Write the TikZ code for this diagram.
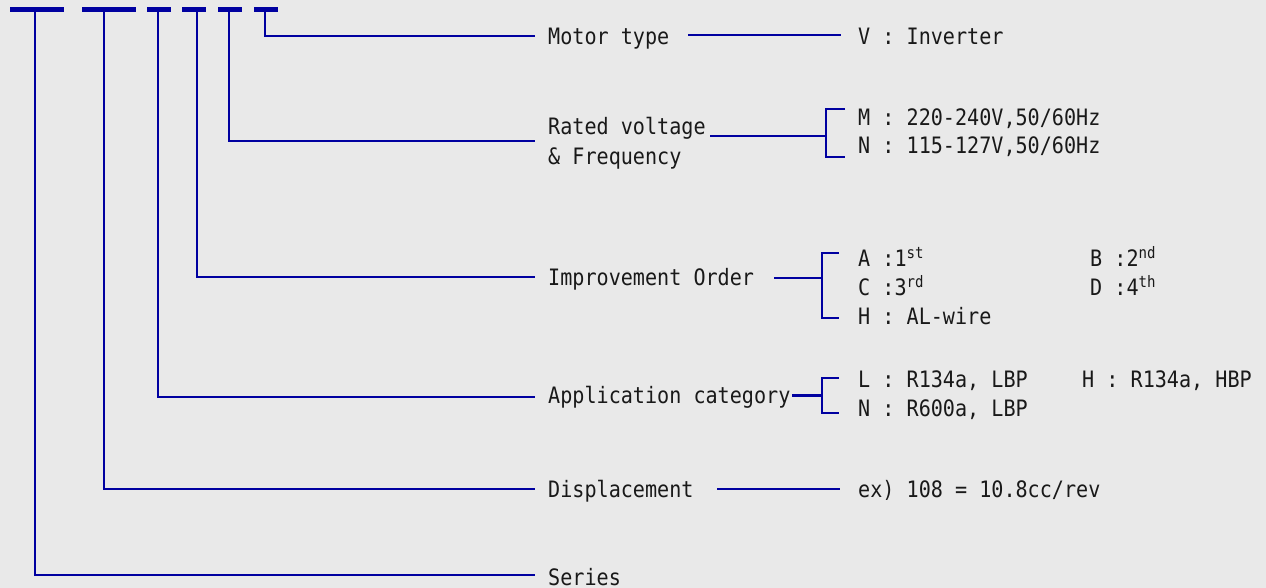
\documentclass[tikz,border=0pt]{standalone}
\usepackage{fontspec}
\setmainfont[FakeStretch=0.89]{DejaVu Sans Mono}
\usetikzlibrary{calc}

\definecolor{codeblue}{RGB}{0,0,160}
\definecolor{paper}{RGB}{233,233,233}

\tikzset{
  bar/.style={fill=codeblue, inner sep=0pt, minimum height=5pt},
  lead/.style={draw=codeblue, line width=2pt},
  txt/.style={anchor=base west, inner sep=0pt, text=black!90,
              font=\fontsize{22.6}{30}\selectfont},
}

\begin{document}
\begin{tikzpicture}[x=1pt, y=-1pt, line cap=butt, line join=miter]
  \fill[paper] (0,0) rectangle (1266,588);
  \useasboundingbox (0,0) rectangle (1266,588);

  % the six fields of the model code
  \node[bar, minimum width=54pt] (ser) at (37,9.5) {};
  \node[bar, minimum width=54pt] (dis) at (109,9.5) {};
  \node[bar, minimum width=24pt] (app) at (159,9.5) {};
  \node[bar, minimum width=24pt] (imp) at (194,9.5) {};
  \node[bar, minimum width=24pt] (vol) at (230,9.5) {};
  \node[bar, minimum width=24pt] (mot) at (266,9.5) {};

  % field names
  \node[txt] (tMot) at (548,45)  {Motor type};
  \node[txt] (tVol) at (548,135) {Rated voltage};
  \node[txt] (tFrq) at (548,165) {\& Frequency};
  \node[txt] (tImp) at (548,285) {Improvement Order};
  \node[txt] (tApp) at (548,403) {Application category};
  \node[txt] (tDis) at (548,497) {Displacement};
  \node[txt] (tSer) at (548,585) {Series};

  % leaders from the bars
  \coordinate (eMot) at (535,36);
  \coordinate (eVol) at (535,141);
  \coordinate (eImp) at (535,277);
  \coordinate (eApp) at (535,397);
  \coordinate (eDis) at (535,489);
  \coordinate (eSer) at (535,575);
  \draw[lead] ($(mot.south)+(-1.5,0)$) |- (eMot);
  \draw[lead] ($(vol.south)+(-1,0)$) |- (eVol);
  \draw[lead] ($(imp.south)+(2.5,0)$) |- (eImp);
  \draw[lead] ($(app.south)+(-1,0)$) |- (eApp);
  \draw[lead] ($(dis.south)+(-5,0)$) |- (eDis);
  \draw[lead] ($(ser.south)+(-2,0)$) |- (eSer);

  % values
  \node[txt] (vV) at (858,45)   {V : Inverter};
  \node[txt] (vM) at (858,126)  {M : 220-240V,50/60Hz};
  \node[txt] (vN) at (858,154)  {N : 115-127V,50/60Hz};
  \node[txt] (vA) at (858,266)  {A :1\textsuperscript{st}};
  \node[txt] (vB) at (1090,266) {B :2\textsuperscript{nd}};
  \node[txt] (vC) at (858,295)  {C :3\textsuperscript{rd}};
  \node[txt] (vD) at (1090,295) {D :4\textsuperscript{th}};
  \node[txt] (vH) at (858,324)  {H : AL-wire};
  \node[txt] (vL) at (858,387)  {L : R134a, LBP};
  \node[txt] (vR) at (1082,387) {H : R134a, HBP};
  \node[txt] (vI) at (858,416)  {N : R600a, LBP};
  \node[txt] (vX) at (858,497)  {ex) 108 = 10.8cc/rev};

  % connectors and brackets
  \coordinate (mA) at (688,35);  \coordinate (mB) at (841,35);
  \draw[lead] (mA) -- (mB);

  \coordinate (rA) at (710,136); \coordinate (rB) at (826,136);
  \draw[lead] (rA) -- (rB);
  \draw[lead] (845,109) -| (826,157) -- (845,157);

  \coordinate (iA) at (774,278); \coordinate (iB) at (822,278);
  \draw[lead] (iA) -- (iB);
  \draw[lead] (839,253) -| (822,318) -- (839,318);

  \coordinate (aA) at (792,395); \coordinate (aB) at (822,395);
  \draw[lead, line width=3pt] (aA) -- (aB);
  \draw[lead] (839,378) -| (822,413) -- (839,413);

  \coordinate (dA) at (717,489); \coordinate (dB) at (840,489);
  \draw[lead] (dA) -- (dB);
\end{tikzpicture}
\end{document}
